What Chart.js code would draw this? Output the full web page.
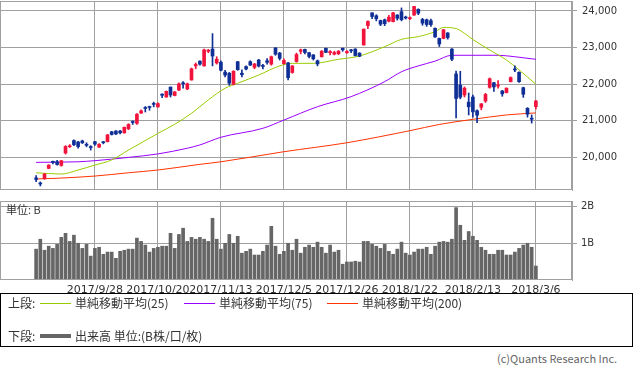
<!DOCTYPE html>
<html>
<head>
<meta charset="utf-8">
<script src="https://cdn.jsdelivr.net/npm/chart.js@4/dist/chart.umd.min.js"></script>
<style>
  body { margin: 0; background: #fff; }
  #wrap { position: relative; width: 633px; height: 370px; overflow: hidden; font-family: "Noto Sans CJK JP", sans-serif; color: #333; }
  canvas { position: absolute; left: 0; }
  .txt { position: absolute; white-space: nowrap; font-size: 12px; line-height: 14px; }
  .swatch { position: absolute; height: 1px; }
</style>
</head>
<body>
<div id="wrap">
  <canvas id="price" width="633" height="191" style="top:0"></canvas>
  <canvas id="vol" width="633" height="100" style="top:195px"></canvas>
  <div class="txt" style="left:6px;top:202px;font-size:11px">単位: B</div>

  <div style="position:absolute;left:0;top:293px;width:631px;height:52px;border:1px solid #000"></div>
  <div class="txt" style="left:8px;top:296px">上段:</div>
  <div class="swatch" style="left:40px;top:303px;width:31px;background:#99cc00"></div>
  <div class="txt" style="left:75px;top:296px">単純移動平均(25)</div>
  <div class="swatch" style="left:184px;top:303px;width:31px;background:#9900ff"></div>
  <div class="txt" style="left:219px;top:296px">単純移動平均(75)</div>
  <div class="swatch" style="left:327px;top:303px;width:31px;background:#ff3300"></div>
  <div class="txt" style="left:362px;top:296px">単純移動平均(200)</div>
  <div class="txt" style="left:8px;top:329px">下段:</div>
  <div class="swatch" style="left:40px;top:334px;width:31px;height:4px;background:#666"></div>
  <div class="txt" style="left:75px;top:329px">出来高 単位:(B株/口/枚)</div>
  <div class="txt" style="left:497px;top:351px;font-size:11px;color:#666">(c)Quants Research Inc.</div>
</div>
<script>
// trading days shown on the chart
const dates = [
  '2017/9/7','2017/9/8','2017/9/11','2017/9/12','2017/9/13','2017/9/14','2017/9/15','2017/9/19','2017/9/20','2017/9/21',
  '2017/9/22','2017/9/25','2017/9/26','2017/9/27','2017/9/28','2017/9/29','2017/10/2','2017/10/3','2017/10/4','2017/10/5',
  '2017/10/6','2017/10/10','2017/10/11','2017/10/12','2017/10/13','2017/10/16','2017/10/17','2017/10/18','2017/10/19','2017/10/20',
  '2017/10/23','2017/10/24','2017/10/25','2017/10/26','2017/10/27','2017/10/30','2017/10/31','2017/11/1','2017/11/2','2017/11/6',
  '2017/11/7','2017/11/8','2017/11/9','2017/11/10','2017/11/13','2017/11/14','2017/11/15','2017/11/16','2017/11/17','2017/11/20',
  '2017/11/21','2017/11/22','2017/11/24','2017/11/27','2017/11/28','2017/11/29','2017/11/30','2017/12/1','2017/12/4','2017/12/5',
  '2017/12/6','2017/12/7','2017/12/8','2017/12/11','2017/12/12','2017/12/13','2017/12/14','2017/12/15','2017/12/18','2017/12/19',
  '2017/12/20','2017/12/21','2017/12/22','2017/12/25','2017/12/26','2017/12/27','2017/12/28','2017/12/29','2018/1/4','2018/1/5',
  '2018/1/9','2018/1/10','2018/1/11','2018/1/12','2018/1/15','2018/1/16','2018/1/17','2018/1/18','2018/1/19','2018/1/22',
  '2018/1/23','2018/1/24','2018/1/25','2018/1/26','2018/1/29','2018/1/30','2018/1/31','2018/2/1','2018/2/2','2018/2/5',
  '2018/2/6','2018/2/7','2018/2/8','2018/2/9','2018/2/13','2018/2/14','2018/2/15','2018/2/16','2018/2/19','2018/2/20',
  '2018/2/21','2018/2/22','2018/2/23','2018/2/26','2018/2/27','2018/2/28','2018/3/1','2018/3/2','2018/3/5','2018/3/6'
];

const opens = [
  19440,19300,19420,19700,19880,19880,19780,20120,20290,20460,
  20420,20450,20360,20290,20430,20280,20420,20430,20700,20720,
  20720,20670,20780,20960,20930,21210,21350,21380,21460,21380,
  21730,21650,21920,21690,21840,22030,21870,22115,22500,22630,
  22500,22900,22960,22580,22600,22330,22300,22000,22615,22300,
  22480,22615,22460,22660,22510,22640,22550,22990,22850,22560,
  22580,22320,22620,22900,22950,22860,22800,22640,22750,22980,
  22860,22820,22830,22980,22860,22930,22960,22850,23073,23600,
  23950,23870,23740,23760,23720,23710,23890,23980,23830,23790,
  23890,24045,23770,23760,23735,23525,23250,23250,23400,22960,
  22280,21975,21705,21510,21650,21275,21370,21540,21915,22040,
  21950,21815,21770,22070,22410,22325,21905,21340,21070,21385
];
const highs = [
  19500,19330,19560,19800,19900,19920,19920,20320,20350,20480,
  20440,20470,20400,20320,20440,20380,20440,20630,20710,20730,
  20740,20830,20920,21000,21200,21300,21390,21400,21510,21490,
  21740,21815,21925,21800,22040,22070,22030,22440,22580,22640,
  22960,22950,23382,22750,22640,22380,22320,22370,22620,22390,
  22500,22640,22570,22680,22540,22700,22770,23000,22870,22690,
  22600,22510,22850,22960,22960,22870,22810,22660,22920,22990,
  22920,22900,22920,22990,22920,22950,22970,22860,23506,23730,
  23952,23900,23750,23780,23880,23962,23900,24084,23860,23840,
  24129,24060,23800,23780,23780,23540,23260,23500,23410,22970,
  22360,22353,21925,21760,21700,21300,21470,21750,22170,22050,
  22100,21830,21900,22200,22500,22340,21920,21360,21160,21560
];
const lows = [
  19340,19220,19400,19690,19820,19790,19760,20090,20270,20320,
  20250,20380,20290,20200,20330,20270,20370,20420,20610,20620,
  20640,20660,20760,20900,20900,21200,21240,21290,21380,21370,
  21630,21640,21650,21680,21820,21890,21850,22110,22420,22520,
  22490,22860,22500,22550,22360,22200,21970,21980,22380,22200,
  22390,22510,22420,22470,22420,22550,22520,22790,22660,22550,
  22120,22300,22600,22830,22830,22715,22660,22500,22740,22860,
  22800,22800,22810,22900,22840,22860,22770,22750,23065,23520,
  23790,23730,23600,23600,23700,23700,23750,23730,23780,23760,
  23880,23900,23610,23580,23580,23280,23030,23240,23230,22640,
  21078,21600,21650,21160,21100,20950,21300,21500,21890,21800,
  21890,21670,21760,22060,22340,22050,21640,21100,20937,21320
];
const closes = [
  19396,19274,19545,19790,19865,19807,19909,20299,20310,20347,
  20296,20397,20330,20267,20363,20356,20400,20614,20626,20640,
  20670,20823,20900,20954,21180,21270,21336,21363,21448,21470,
  21696,21805,21707,21790,22008,22011,22011,22420,22539,22548,
  22937,22930,22770,22681,22381,22250,22028,22351,22397,22261,
  22416,22523,22550,22495,22486,22597,22750,22819,22707,22650,
  22177,22498,22811,22938,22866,22758,22694,22553,22901,22868,
  22891,22866,22902,22939,22892,22911,22783,22764,23506,23714,
  23849,23788,23640,23653,23830,23951,23800,23763,23808,23816,
  24124,23940,23669,23631,23629,23291,23098,23486,23274,22682,
  21610,21645,21891,21382,21244,21154,21464,21720,22149,21925,
  21970,21736,21892,22180,22389,22068,21724,21181,21042,21540
];

// volume in billions of shares
const volumes = [
  0.84,1.11,0.81,0.92,0.86,0.97,1.16,1.27,1.05,1.22,
  1.00,0.86,0.97,0.65,0.86,0.89,0.70,0.76,0.76,0.59,
  0.78,0.81,0.84,0.84,1.14,1.05,0.95,0.76,0.86,0.89,
  0.92,0.92,1.27,0.86,1.24,1.41,1.05,1.16,1.11,1.16,
  1.11,1.05,1.68,1.11,0.84,1.00,1.24,1.00,1.19,0.73,
  0.78,0.84,0.68,0.68,0.78,0.95,1.46,0.92,0.70,0.78,
  1.00,0.81,1.11,0.73,0.89,0.95,0.89,1.03,0.89,0.73,
  0.95,0.76,0.81,0.43,0.49,0.49,0.51,0.49,1.05,1.05,
  0.97,0.92,0.86,0.97,0.78,0.70,0.84,1.03,0.73,0.68,
  0.76,0.84,0.84,0.89,0.70,0.92,1.03,1.05,1.03,1.11,
  1.97,1.49,1.08,1.32,1.19,1.08,0.89,0.81,0.70,0.70,
  0.81,0.81,0.68,0.68,0.76,0.86,0.95,1.00,0.89,0.38
];

// moving averages, read at sample days (index into dates)
const ma25Idx = [0,6,10,14,18,22,29,33,37,41,45,48,53,58,61,66,72,77,83,87,91,95,97,100,102,104,108,112,115,119];
const ma25 = [19580,19545,19655,19790,19930,20200,20655,20905,21205,21570,21890,22025,22250,22500,22570,22570,22680,22770,23025,23225,23300,23435,23550,23520,23390,23220,22935,22660,22390,22000];
const ma75Idx = [0,10,14,22,29,36,39,44,54,59,67,75,83,87,91,95,99,110,114,119];
const ma75 = [19865,19880,19910,20000,20095,20250,20340,20550,20795,21020,21385,21660,22070,22340,22500,22630,22790,22790,22750,22680];
const ma200Idx = [0,5,14,22,29,39,44,59,74,89,96,104,112,119];
const ma200 = [19410,19430,19490,19580,19655,19810,19880,20155,20400,20730,20900,21040,21160,21215];

const tickIdx = [14,29,44,59,74,89,104,119];
const priceTicks = [20000,21000,22000,23000,24000];
const volTicks = [1,2];

const UP = '#f0143c', DOWN = '#0f2f96', GRID = '#a0a0a0';
const candleColors = closes.map((c, i) => c >= opens[i] ? UP : DOWN);

const framePlugin = {
  id: 'frame',
  afterDraw(chart) {
    const a = chart.chartArea, ctx = chart.ctx;
    ctx.save();
    ctx.strokeStyle = GRID;
    ctx.lineWidth = 1;
    ctx.strokeRect(Math.round(a.left) + 0.5, Math.round(a.top) + 0.5, Math.round(a.right - a.left) - 1, Math.round(a.bottom - a.top) - 1);
    ctx.restore();
  }
};

// no label padding, so the plot area is exactly where we want it
const noPad = s => { s.paddingLeft = 0; s.paddingRight = 0; s.paddingTop = 0; s.paddingBottom = 0; };
const xRange = { min: -8.6, max: 127.6, offset: false };

new Chart(document.getElementById('price'), {
  type: 'bar',
  data: {
    datasets: [
      { type: 'line', data: ma25.map((v, k) => ({ x: ma25Idx[k], y: v })), borderColor: '#99cc00', borderWidth: 1, pointRadius: 0, cubicInterpolationMode: 'monotone', order: 3 },
      { type: 'line', data: ma75.map((v, k) => ({ x: ma75Idx[k], y: v })), borderColor: '#9900ff', borderWidth: 1, pointRadius: 0, cubicInterpolationMode: 'monotone', order: 3 },
      { type: 'line', data: ma200.map((v, k) => ({ x: ma200Idx[k], y: v })), borderColor: '#ff3300', borderWidth: 1, pointRadius: 0, cubicInterpolationMode: 'monotone', order: 3 },
      { data: dates.map((d, i) => ({ x: i, y: [lows[i], highs[i]] })), backgroundColor: candleColors, barThickness: 1, maxBarThickness: 1, grouped: false, order: 2 },
      { data: dates.map((d, i) => ({ x: i, y: [opens[i], closes[i]] })), backgroundColor: candleColors, barThickness: 3, maxBarThickness: 3, minBarLength: 1, grouped: false, order: 1 }
    ]
  },
  options: {
    responsive: false,
    animation: false,
    devicePixelRatio: 1,
    events: [],
    layout: { padding: { top: 1, bottom: 1, left: 0, right: 0 } },
    plugins: { legend: { display: false }, tooltip: { enabled: false } },
    scales: {
      x: {
        type: 'linear', ...xRange,
        grid: { color: GRID, drawTicks: false, offset: false },
        border: { display: false },
        ticks: { display: false },
        afterBuildTicks: s => { s.ticks = tickIdx.map(v => ({ value: v })); },
        afterFit: s => { s.height = 0; noPad(s); }
      },
      y: {
        position: 'right', min: 19109, max: 24273,
        grid: { color: GRID, tickLength: 5 },
        border: { color: GRID },
        ticks: { color: '#333', padding: 5, font: { family: 'DejaVu Sans', size: 10 }, callback: v => v.toLocaleString('en-US') },
        afterBuildTicks: s => { s.ticks = priceTicks.map(v => ({ value: v })); },
        afterFit: s => { s.width = 61; noPad(s); }
      }
    }
  },
  plugins: [framePlugin]
});

new Chart(document.getElementById('vol'), {
  type: 'bar',
  data: {
    datasets: [
      { data: volumes.map((v, i) => ({ x: i, y: v })), backgroundColor: '#666666', barThickness: 3, maxBarThickness: 3, grouped: false }
    ]
  },
  options: {
    responsive: false,
    animation: false,
    devicePixelRatio: 1,
    events: [],
    layout: { padding: { top: 6, bottom: 0, left: 0, right: 0 } },
    plugins: { legend: { display: false }, tooltip: { enabled: false } },
    scales: {
      x: {
        type: 'linear', ...xRange,
        grid: { color: GRID, drawTicks: false, offset: false },
        border: { display: false },
        ticks: { color: '#333', padding: 4, maxRotation: 0, autoSkip: false, font: { family: 'DejaVu Sans', size: 11 }, callback: v => dates[v] },
        afterBuildTicks: s => { s.ticks = tickIdx.map(v => ({ value: v })); },
        afterFit: s => { s.height = 15; noPad(s); }
      },
      y: {
        position: 'right', min: 0, max: 2.15,
        grid: { color: GRID, tickLength: 5 },
        border: { color: GRID },
        ticks: { color: '#333', padding: 4, font: { family: 'DejaVu Sans', size: 10 }, callback: v => v + 'B' },
        afterBuildTicks: s => { s.ticks = volTicks.map(v => ({ value: v })); },
        afterFit: s => { s.width = 61; noPad(s); }
      }
    }
  },
  plugins: [framePlugin]
});
</script>
</body>
</html>
